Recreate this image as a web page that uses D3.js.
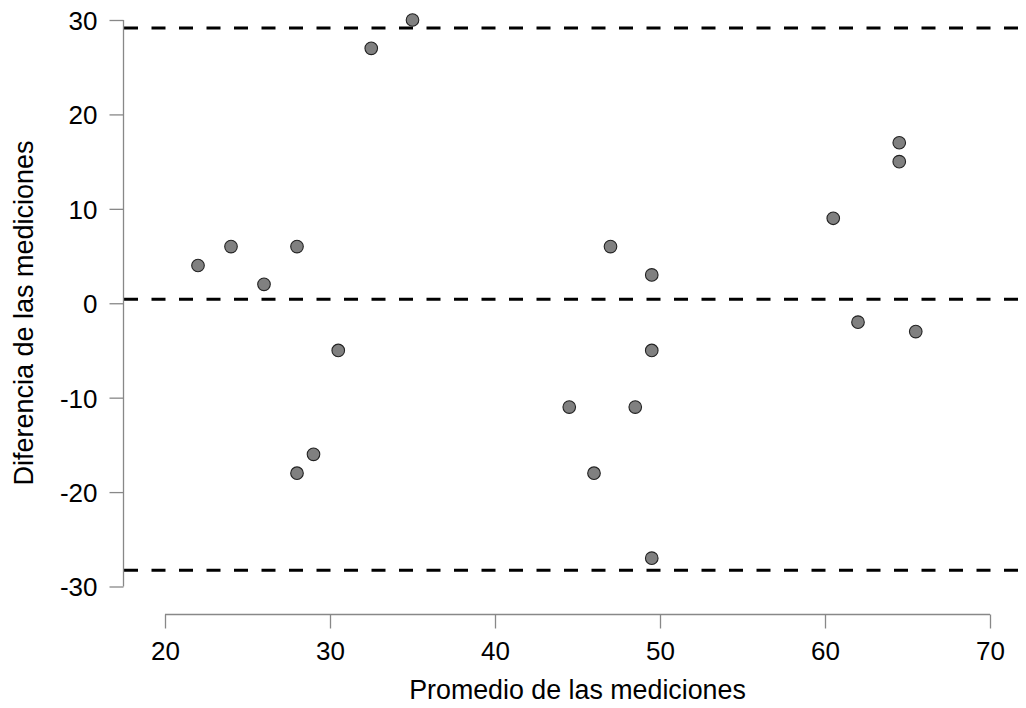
<!DOCTYPE html>
<html>
<head>
<meta charset="utf-8">
<title>Bland-Altman</title>
<style>
  body { margin: 0; background: #fff; }
  svg text { font-family: "Liberation Sans", Arial, sans-serif; fill: #000; }
</style>
</head>
<body>
<svg width="1026" height="708"></svg>
<script src="https://cdnjs.cloudflare.com/ajax/libs/d3/7.8.5/d3.min.js"></script>
<script>
// averages (x) and differences (y)
var promedio = [22, 24, 26, 28, 28, 29, 30.5, 32.5, 35, 44.5, 46, 47, 48.5, 49.5, 49.5, 49.5, 60.5, 62, 64.5, 64.5, 65.5];
var diferencia = [4, 6, 2, 6, -18, -16, -5, 27, 30, -11, -18, 6, -11, 3, -5, -27, 9, -2, 17, 15, -3];
// upper limit, mean difference, lower limit
var limites = [29.15, 0.43, -28.29];
var xTicks = [20, 30, 40, 50, 60, 70];
var yTicks = [-30, -20, -10, 0, 10, 20, 30];

var svg = d3.select("svg"),
    width = +svg.attr("width"),
    height = +svg.attr("height");

var x = d3.scaleLinear().domain([20, 70]).range([165, 990]);
var y = d3.scaleLinear().domain([-30, 30]).range([586.5, 20]);

// limit lines
svg.selectAll(".lim")
  .data(limites)
  .enter().append("line")
  .attr("class", "lim")
  .attr("x1", 124).attr("x2", width)
  .attr("y1", function(d) { return y(d); })
  .attr("y2", function(d) { return y(d); })
  .attr("stroke", "#000")
  .attr("stroke-width", 3)
  .attr("stroke-dasharray", "14,13.5");

// points
svg.selectAll(".pt")
  .data(promedio)
  .enter().append("circle")
  .attr("class", "pt")
  .attr("cx", function(d) { return x(d); })
  .attr("cy", function(d, i) { return y(diferencia[i]); })
  .attr("r", 6.3)
  .attr("fill", "#808080")
  .attr("stroke", "#222")
  .attr("stroke-width", 1.1);

// axes
var fmt = function(d) { return String(d); };

var xAxis = svg.append("g")
  .attr("transform", "translate(0,614.5)")
  .call(d3.axisBottom(x).tickValues(xTicks).tickSize(14).tickPadding(13.5).tickFormat(fmt));

var yAxis = svg.append("g")
  .attr("transform", "translate(123.5,0)")
  .call(d3.axisLeft(y).tickValues(yTicks).tickSize(14).tickPadding(12).tickFormat(fmt));

[xAxis, yAxis].forEach(function(a) {
  a.attr("font-size", null).attr("font-family", null);
  a.select(".domain").attr("stroke", "#888").attr("stroke-width", 1.3)
    .attr("d", a === xAxis ? "M" + x(20) + ",0H" + x(70) : "M0," + y(-30) + "V" + y(30));
  a.selectAll(".tick line").attr("stroke", "#888").attr("stroke-width", 1.3);
  a.selectAll(".tick text").style("font-size", "26px").attr("fill", "#000");
});
yAxis.selectAll(".tick text").attr("dy", "0.36em");

// axis titles
svg.append("text")
  .attr("x", (x(20) + x(70)) / 2)
  .attr("y", 699)
  .attr("text-anchor", "middle")
  .style("font-size", "26.8px")
  .text("Promedio de las mediciones");

svg.append("text")
  .attr("transform", "translate(33,313) rotate(-90)")
  .attr("text-anchor", "middle")
  .style("font-size", "27px")
  .text("Diferencia de las mediciones");
</script>
</body>
</html>
